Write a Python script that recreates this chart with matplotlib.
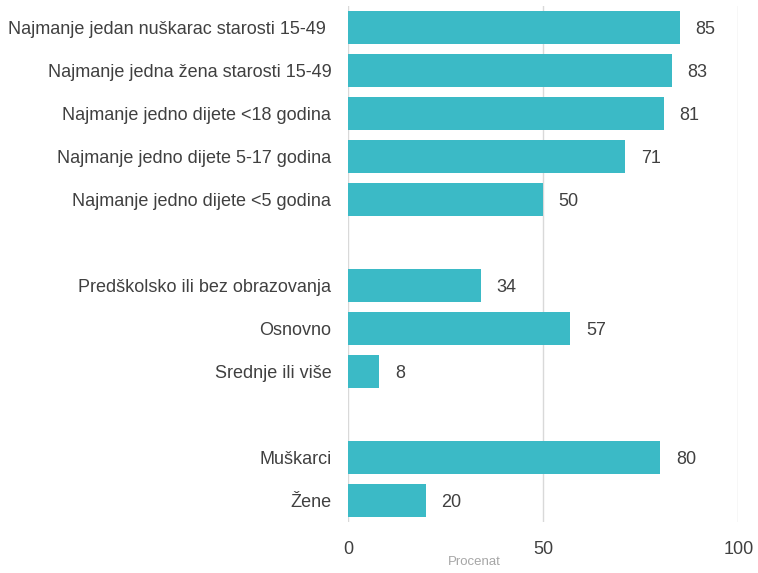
import numpy as np
import matplotlib.pyplot as plt

plt.rcParams['font.family'] = ['Liberation Sans', 'DejaVu Sans']

# podaci (prazni string = razmak između grupa)
labels = ["Najmanje jedan nuškarac starosti 15-49 ",
          "Najmanje jedna žena starosti 15-49",
          "Najmanje jedno dijete <18 godina",
          "Najmanje jedno dijete 5-17 godina",
          "Najmanje jedno dijete <5 godina",
          "",
          "Predškolsko ili bez obrazovanja",
          "Osnovno",
          "Srednje ili više",
          "",
          "Muškarci",
          "Žene"]
values = [85, 83, 81, 71, 50, None, 34, 57, 8, None, 80, 20]

bar_color = "#3BBAC6"
text_color = "#404040"

fig = plt.figure(figsize=(7.58, 5.73), dpi=100)
ax = fig.add_axes([0.459, 0.089, 0.515, 0.900])

y = np.arange(len(labels))
for yi, v in zip(y, values):
    if v is None:
        continue
    ax.barh(yi, v, height=0.76, color=bar_color, zorder=3)
    ax.text(v + 4, yi, str(v), va='center_baseline', ha='left', fontsize=13, color=text_color)

ax.set_ylim(len(labels) - 0.5, -0.5)
ax.set_xlim(0, 100)
ax.set_yticks(y)
ax.set_yticklabels(labels, fontsize=13, color=text_color)
ax.set_xticks([0, 50, 100])
ax.tick_params(axis='x', labelsize=13, colors=text_color, length=0, pad=14)
ax.tick_params(axis='y', length=0, pad=12)
ax.grid(axis='x', color='#d9d9d9', linewidth=1, zorder=0)
for s in ax.spines.values():
    s.set_visible(False)
ax.set_xlabel("Procenat", fontsize=9.5, color='#a6a6a6', labelpad=0)
ax.xaxis.set_label_coords(0.323, -0.066)

fig.savefig("out.png", dpi=100)
